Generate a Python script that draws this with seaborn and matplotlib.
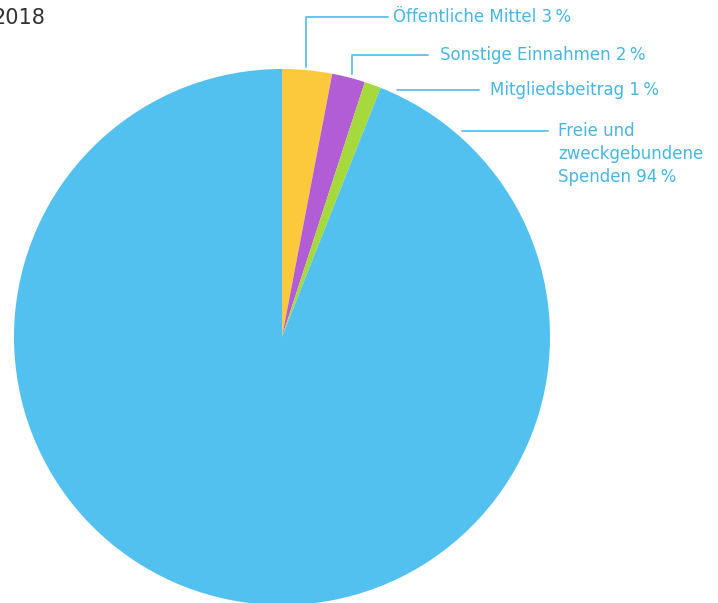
import seaborn as sns
import matplotlib.pyplot as plt

# Einnahmen 2018
categories = ["Öffentliche Mittel", "Sonstige Einnahmen", "Mitgliedsbeitrag",
              "Freie und\nzweckgebundene\nSpenden"]
shares = [3, 2, 1, 94]
colors = ["#fdc93c", "#b25cd6", "#a6d93c", "#52c1ef"]

# label layout in pixels (top-left origin): leader polyline, text anchor
leaders = [
    [(306, 67), (306, 17), (388, 17)],
    [(352, 74), (352, 55), (428, 55)],
    [(397, 90), (479, 90)],
    [(462, 131), (548, 131)],
]
text_pos = [(393, 17), (440, 55), (490, 90), (558, 122)]

W, H = 718, 603
sns.set_theme(style="white")
plt.rcParams['font.family'] = ['DejaVu Sans']

fig = plt.figure(figsize=(W / 100, H / 100), dpi=100)
ax = fig.add_axes([14 / W, -2 / H, 536 / W, 536 / H])
ax.pie(shares, colors=colors, startangle=90, counterclock=False,
       wedgeprops=dict(linewidth=0))
ax.set_xlim(-1, 1)
ax.set_ylim(-1, 1)
ax.set_axis_off()

line_col = "#5cc2ee"
text_col = "#45b6e5"
for cat, share, pts, (tx, ty) in zip(categories, shares, leaders, text_pos):
    xs = [p[0] / W for p in pts]
    ys = [1 - p[1] / H for p in pts]
    fig.add_artist(plt.Line2D(xs, ys, color=line_col, lw=1.3,
                              transform=fig.transFigure))
    label = "{} {}\u2009%".format(cat, share)
    if "\n" in cat:
        fig.text(tx / W, 1 - ty / H, label, color=text_col, fontsize=12,
                 ha="left", va="top", linespacing=1.35)
    else:
        fig.text(tx / W, 1 - ty / H, label, color=text_col, fontsize=12,
                 ha="left", va="center")

fig.text(45 / W, 1 - 18 / H, "2018", color="#333333", fontsize=15,
         ha="right", va="center")

fig.savefig("out.png", dpi=100)
